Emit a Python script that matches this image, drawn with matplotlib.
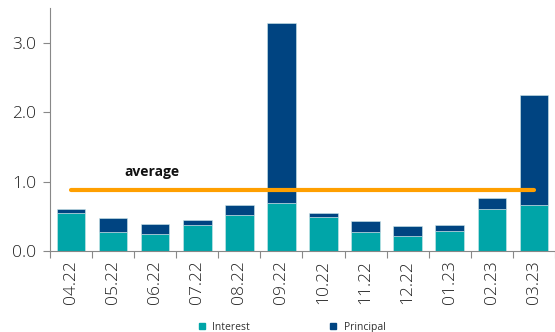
import matplotlib.pyplot as plt
from matplotlib.lines import Line2D

# --- Data ---
months = ["04.22", "05.22", "06.22", "07.22", "08.22", "09.22",
          "10.22", "11.22", "12.22", "01.23", "02.23", "03.23"]
interest = [0.55, 0.28, 0.25, 0.38, 0.53, 0.69, 0.50, 0.28, 0.22, 0.30, 0.61, 0.67]
total = [0.61, 0.48, 0.39, 0.45, 0.67, 3.28, 0.56, 0.44, 0.36, 0.38, 0.77, 2.25]
principal = [t - i for t, i in zip(total, interest)]
average = 0.89

teal = "#00A5A8"
navy = "#004481"
orange = "#FF9F00"

plt.rcParams["font.family"] = ["Open Sans", "DejaVu Sans"]

fig = plt.figure(figsize=(5.55, 3.32), dpi=100)
ax = fig.add_axes([0.09, 0.2425, 0.91, 0.7335])

x = list(range(len(months)))
ax.bar(x, interest, width=0.68, color=teal, edgecolor="#cfe8ea", linewidth=0.4)
ax.bar(x, principal, width=0.68, bottom=interest, color=navy,
       edgecolor="#cfe8ea", linewidth=0.4)

ax.plot([x[0], x[-1]], [average, average], color=orange, linewidth=3,
        solid_capstyle="round", zorder=3)
ax.text(1.93, 1.14, "average", ha="center", va="center", fontsize=10,
        fontweight="bold", color="#111111")

ax.set_xlim(-0.5, 11.5)
ax.set_ylim(0, 3.5)
ax.set_yticks([0, 1, 2, 3])
ax.set_yticklabels(["0.0", "1.0", "2.0", "3.0"], fontsize=12.5, color="#222222",
                   fontweight="light")

# month labels centred under bars, ticks on the boundaries
ax.set_xticks([i - 0.5 for i in range(len(months) + 1)])
ax.set_xticklabels([])
ax.set_xticks(x, minor=True)
ax.set_xticklabels(months, minor=True, rotation=90, fontsize=12.5, color="#222222",
                   fontweight="light")
ax.tick_params(axis="x", which="minor", length=0, pad=6)
ax.tick_params(axis="x", which="major", length=5, color="#888888")
ax.tick_params(axis="y", length=5, color="#888888", pad=5)

for side in ["top", "right"]:
    ax.spines[side].set_visible(False)
for side in ["left", "bottom"]:
    ax.spines[side].set_color("#888888")

handles = [
    Line2D([], [], marker="s", linestyle="", color=teal, markersize=5, label="Interest"),
    Line2D([], [], marker="s", linestyle="", color=navy, markersize=5, label="Principal"),
]
fig.legend(handles=handles, loc="lower center", bbox_to_anchor=(0.52, -0.03), ncol=2,
           frameon=False, fontsize=7.5, handletextpad=0.0, columnspacing=7,
           labelcolor="#333333")

plt.savefig("out.png", dpi=100)
